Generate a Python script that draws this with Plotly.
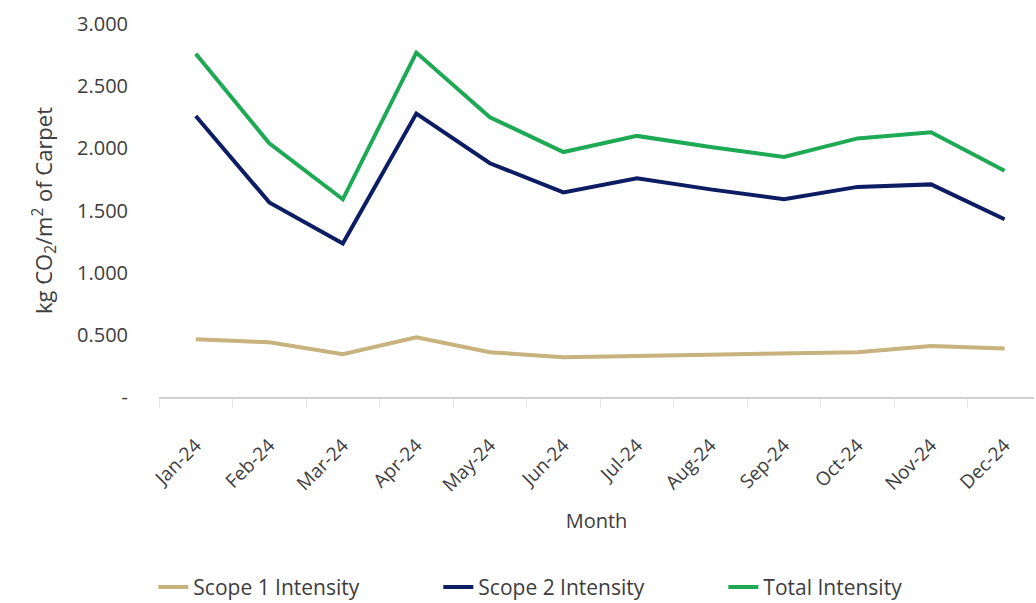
import plotly.graph_objects as go

months = ["Jan-24", "Feb-24", "Mar-24", "Apr-24", "May-24", "Jun-24",
          "Jul-24", "Aug-24", "Sep-24", "Oct-24", "Nov-24", "Dec-24"]
scope1 = [0.465, 0.44, 0.345, 0.48, 0.36, 0.32, 0.33, 0.34, 0.345, 0.36, 0.41, 0.39]
scope2 = [2.26, 1.565, 1.235, 2.28, 1.88, 1.645, 1.76, 1.67, 1.59, 1.69, 1.71, 1.43]
total = [2.76, 2.04, 1.59, 2.77, 2.25, 1.97, 2.10, 2.01, 1.93, 2.08, 2.13, 1.82]

y_ticks = [0, 0.5, 1.0, 1.5, 2.0, 2.5, 3.0]
y_tick_text = ["-", "0.500", "1.000", "1.500", "2.000", "2.500", "3.000"]

FONT = "'Open Sans', Lato, sans-serif"
TEXT = "#3d3d3d"

fig = go.Figure()
series = [
    ("Scope 1 Intensity", scope1, "#c8b27d"),
    ("Scope 2 Intensity", scope2, "#0c1d63"),
    ("Total Intensity", total, "#1ea955"),
]
for name, vals, color in series:
    fig.add_trace(go.Scatter(
        x=months, y=vals, name=name, mode="lines",
        line=dict(color=color, width=4),
    ))

fig.update_layout(
    width=1036, height=603,
    margin=dict(l=159, r=2, t=24, b=206, autoexpand=False),
    paper_bgcolor="white", plot_bgcolor="white",
    font=dict(family=FONT, color=TEXT, size=18),
    showlegend=True,
    legend=dict(
        orientation="h",
        xref="container", x=0.148, xanchor="left",
        yref="container", y=0.026, yanchor="middle",
        font=dict(size=21, color=TEXT), itemwidth=30,
        entrywidth=240, entrywidthmode="pixels",
        traceorder="normal",
    ),
)
fig.update_xaxes(
    type="category", range=[-0.5, 11.4], automargin=False,
    tickangle=-45, tickfont=dict(size=19, color=TEXT),
    showline=True, linecolor="#d0d0d0", linewidth=1.5,
    ticks="outside", tickson="boundaries", ticklen=9, tickcolor="#e6e6e6",
    ticklabelstandoff=28,
    showgrid=False,
    title=dict(text="Month", font=dict(size=20, color=TEXT), standoff=18),
)
fig.update_yaxes(
    range=[0, 3.0], tickvals=y_ticks, ticktext=y_tick_text, automargin=False,
    tickfont=dict(size=20, color=TEXT),
    showgrid=False, zeroline=False, showline=False, ticks="",
    ticklabelstandoff=30,
    title=dict(text="kg CO<sub>2</sub>/m<sup>2</sup> of Carpet",
               font=dict(size=22, color=TEXT), standoff=18),
)

fig.write_html("out.html")
